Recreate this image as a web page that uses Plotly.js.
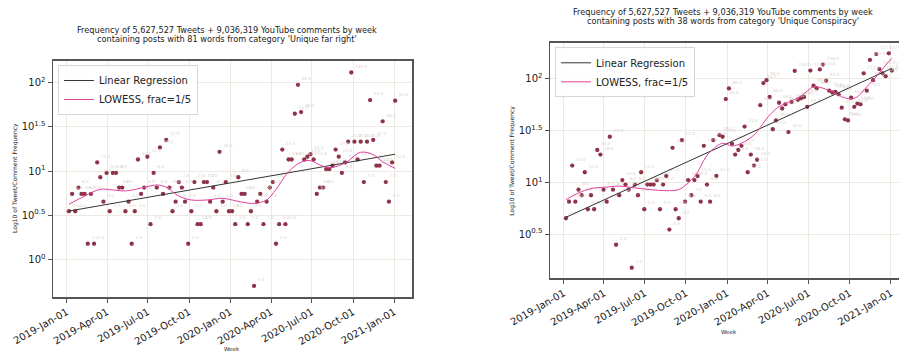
<!DOCTYPE html>
<html>
<head>
<meta charset="utf-8">
<script src="https://cdn.plot.ly/plotly-3.0.1.min.js"></script>
<style>html,body{margin:0;padding:0;background:#fff;}#chart{width:899px;height:353px;}</style>
</head>
<body>
<div id="chart"></div>
<script>
// ---------------- DATA ----------------
const weekStart = '2019-01-06';      // first weekly bin (weeks ending Sunday)
const nWeeks = 105;
const OFFSET = 0.5;                  // plotted frequency = count + 0.5

// Left: 'Unique far right' weekly counts
const countsFarRight = [
  3,5,3,6,5,5,1,5,1,12, 8,4,9,3,9,9,6,6,3,4,
  1,3,13,5,6,14,2,9,6,18, 5,22,6,3,4,7,6,4,1,3,
  7,2,2,7,7,4,6,3,16,4, 7,3,3,2,8,5,5,2,3,0,
  4,5,2,4,6,7,1,2,17,2, 13,13,44,94,46,13,14,15,13,5,
  6,6,10,10,11,17,14,9,12,21, 130,21,13,21,7,21,63,22,11,11,
  36,7,4,12,62
];
// Right: 'Unique Conspiracy' weekly counts
const countsConspiracy = [
  4,6,14,6,8,7,12,5,7,5, 20,18,8,6,27,8,2,7,10,9,
  8,1,9,7,12,5,9,9,9,10, 5,9,11,3,21,5,4,25,6,10,
  7,10,11,6,22,9,6,25,11,28, 27,63,80,23,18,20,22,34,12,18,
  14,16,55,90,96,66,32,39,58,51, 56,30,59,118,62,64,66,53,119,85,
  80,122,136,95,76,73,74,70,52,40, 39,65,53,57,56,112,76,151,96,172,
  123,112,105,175,119
];

// Linear regression (fitted line end values, in plotted units) at first / last week
const regWeeks = [0, 104];
const regFarRight = [3.52, 15.5];
const regConspiracy = [4.6, 125.7];

// LOWESS (frac=1/5) curve samples: week index -> plotted value
const lowessWeeksL = [0,5,10,14,18,23,28,31,35,39,44,49,55,59,63,66,70,74,77,80,83,88,93,97,100,104];
const lowessFarRight = [4.2,5.2,6.2,6.1,5.95,6.4,6.95,6.55,5.2,4.7,4.7,4.9,4.45,4.3,4.7,6.2,9.8,12.6,13.1,11.7,10.9,12.3,16.3,15.3,12.7,10.7];
const lowessWeeksR = [0,4,8,13,17,21,27,32,36,38,40,42,44,46,50,53,56,60,62,65,68,71,75,79,81,85,88,91,93,96,99,102,104];
const lowessConspiracy = [6.8,7.9,8.7,9.0,9.2,8.9,8.5,8.3,8.5,9.3,10.5,12.5,16.3,19.7,23.8,22.4,23.8,28.6,33.9,44.6,53.6,59,68,83.5,82.4,74.8,66.9,63.6,66.9,83.5,104,135,157];

// Axis ticks
const xTickVals = ['2019-01-01','2019-04-01','2019-07-01','2019-10-01','2020-01-01','2020-04-01','2020-07-01','2020-10-01','2021-01-01'];
const xTickText = ['2019-Jan-01','2019-Apr-01','2019-Jul-01','2019-Oct-01','2020-Jan-01','2020-Apr-01','2020-Jul-01','2020-Oct-01','2021-Jan-01'];
const yTickValsL = [1, 3.1623, 10, 31.623, 100];
const yTickTextL = ['10<sup>0</sup>','10<sup>0.5</sup>','10<sup>1</sup>','10<sup>1.5</sup>','10<sup>2</sup>'];
const yTickValsR = [3.1623, 10, 31.623, 100];
const yTickTextR = ['10<sup>0.5</sup>','10<sup>1</sup>','10<sup>1.5</sup>','10<sup>2</sup>'];

const titleL = ["Frequency of 5,627,527 Tweets + 9,036,319 YouTube comments by week", "containing posts with 81 words from category 'Unique far right'"];
const titleR = ["Frequency of 5,627,527 Tweets + 9,036,319 YouTube comments by week", "containing posts with 38 words from category 'Unique Conspiracy'"];

// ---------------- BUILD ----------------
const weeks = [];
(function(){
  const d0 = new Date(weekStart + 'T00:00:00Z');
  for (let i = 0; i < nWeeks; i++) {
    const d = new Date(d0.getTime() + i * 7 * 86400000);
    weeks.push(d.toISOString().slice(0,10));
  }
})();

const FONT = 'DejaVu Sans, sans-serif';
const DOT = '#8e3349';
const LBL = '#d9d3cd';
const REG = '#333333';
const LOW = '#e0409e';
const GRID = '#ece9e2';
const SPINE = '#555555';

function pts(counts, xa, ya) {
  return {type:'scatter', mode:'markers+text', x: weeks, y: counts.map(c => c + OFFSET),
    text: counts.map(c => c.toFixed(1)), textposition:'top right',
    textfont:{size:4.2, color:LBL, family:FONT},
    marker:{size:4.3, color:DOT}, xaxis:xa, yaxis:ya, showlegend:false, hoverinfo:'skip'};
}
function reg(vals, xa, ya, lg) {
  return {type:'scatter', mode:'lines', name:'Linear Regression', x: regWeeks.map(i => weeks[i]), y: vals,
    line:{color:REG, width:1}, xaxis:xa, yaxis:ya, legend:lg};
}
function low(idx, vals, xa, ya, lg) {
  return {type:'scatter', mode:'lines', name:'LOWESS, frac=1/5', x: idx.map(i => weeks[i]), y: vals,
    line:{color:LOW, width:1, shape:'spline', smoothing:1}, xaxis:xa, yaxis:ya, legend:lg};
}

const data = [
  pts(countsFarRight, 'x', 'y'),
  reg(regFarRight, 'x', 'y', 'legend'),
  low(lowessWeeksL, lowessFarRight, 'x', 'y', 'legend'),
  pts(countsConspiracy, 'x2', 'y2'),
  reg(regConspiracy, 'x2', 'y2', 'legend2'),
  low(lowessWeeksR, lowessConspiracy, 'x2', 'y2', 'legend2')
];

function xax(domain, range, anchor) {
  return {type:'date', domain:domain, range:range, anchor:anchor,
    tickmode:'array', tickvals:xTickVals, ticktext:xTickText, tickangle:-30,
    tickfont:{size:10, family:FONT, color:'#222'}, ticks:'outside', ticklen:4, tickcolor:SPINE,
    showgrid:true, gridcolor:GRID, gridwidth:1, zeroline:false,
    showline:true, linecolor:SPINE, linewidth:1.5, mirror:true};
}
function yax(domain, range, anchor, tv, tt, mirror) {
  return {type:'log', domain:domain, range:range, anchor:anchor,
    tickmode:'array', tickvals:tv, ticktext:tt,
    tickfont:{size:10, family:FONT, color:'#222'}, ticks:'outside', ticklen:4, tickcolor:SPINE,
    showgrid:true, gridcolor:GRID, gridwidth:1, zeroline:false,
    showline:true, linecolor:SPINE, linewidth:1.5, mirror:mirror};
}

function ann(text, x, y, size, extra) {
  return Object.assign({text:text, x:x, y:y, xref:'paper', yref:'paper', showarrow:false,
    xanchor:'center', yanchor:'middle', font:{size:size, family:FONT, color:'#222'}}, extra || {});
}

const legendStyle = {font:{size:10, family:FONT, color:'#222'}, bgcolor:'rgba(255,255,255,0.85)',
  bordercolor:'#d6d6d6', borderwidth:1, xanchor:'left', yanchor:'top', itemwidth:30, tracegroupgap:0};

const layout = {
  width:899, height:353, margin:{l:0, r:0, t:0, b:0},
  paper_bgcolor:'#fff', plot_bgcolor:'#fff', font:{family:FONT},
  xaxis: xax([0.05896, 0.4583], ['2018-12-01 10:00','2021-02-09 12:00'], 'y'),
  yaxis: yax([0.1586, 0.8272], [-0.4270, 2.2458], 'x', yTickValsL, yTickTextL, true),
  xaxis2: xax([0.6118, 1], ['2018-12-01 10:00','2021-01-18 22:00'], 'y2'),
  yaxis2: yax([0.2116, 0.879], [0.0743, 2.3462], 'x2', yTickValsR, yTickTextR, false),
  legend: Object.assign({x:0.0645, y:0.8159}, legendStyle),
  legend2: Object.assign({x:0.6174, y:0.866}, legendStyle),
  annotations: [
    ann(titleL[0], 0.2522, 0.915, 8.2), ann(titleL[1], 0.2522, 0.8904, 8.2),
    ann(titleR[0], 0.8042, 0.9669, 8.2), ann(titleR[1], 0.8042, 0.9405, 8.2),
    ann('Log10 of Tweet/Comment Frequency', 0.01669, 0.4958, 6, {textangle:-90}),
    ann('Log10 of Tweet/Comment Frequency', 0.5692, 0.5439, 6, {textangle:-90}),
    ann('Week', 0.2581, 0.0105, 5.5),
    ann('Week', 0.8109, 0.0603, 5.5)
  ],
  showlegend:true
};

Plotly.newPlot('chart', data, layout, {staticPlot:true, displayModeBar:false});
</script>
</body>
</html>
